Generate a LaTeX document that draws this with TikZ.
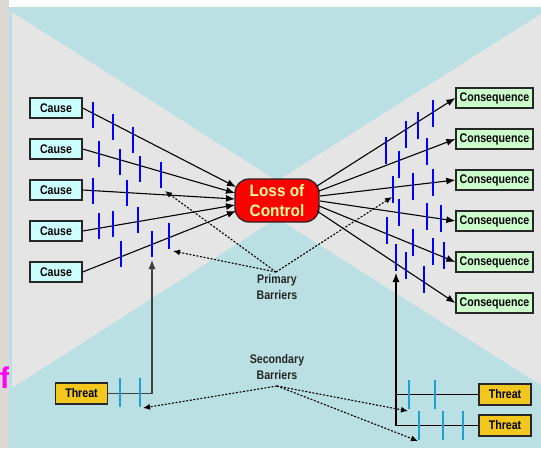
\documentclass[tikz,border=0pt]{standalone}
\usepackage{fontspec}
\newfontfamily\boxfont[FakeStretch=0.85]{Liberation Sans}
\newfontfamily\locfont[FakeStretch=0.93]{Liberation Sans}
\newfontfamily\bgfont{Liberation Sans}
\usetikzlibrary{arrows.meta}
\usepackage{xcolor}
\newcommand{\TxCause}{\fontsize{12.5}{14}\boxfont\bfseries Cause}
\newcommand{\TxConseq}{\fontsize{12.5}{14}\boxfont\bfseries Consequence}
\newcommand{\TxThreat}{\fontsize{12.5}{14}\boxfont\bfseries Threat}
\definecolor{myteal}{rgb}{0.729,0.878,0.890}
\definecolor{mygray}{rgb}{0.898,0.898,0.898}
\definecolor{myspeckle}{rgb}{0.86,0.85,0.82}
\definecolor{mycyan}{rgb}{0.8,1,1}
\definecolor{mylime}{rgb}{0.8,1,0.8}
\definecolor{mygold}{rgb}{0.949,0.784,0.122}
\definecolor{myyellow}{rgb}{1,1,0.6}
\definecolor{mylightblue}{rgb}{0.118,0.627,0.843}
\definecolor{mymagenta}{rgb}{1,0,1}

\begin{document}
\begin{tikzpicture}[x=1pt,y=-1pt,>={Latex[length=9pt,width=7pt]},
  box/.style={draw=black!85,line width=1.3pt,minimum height=20pt,inner sep=0pt},
  cause/.style={box,fill=mycyan,minimum width=52pt},
  conseq/.style={box,fill=mylime,minimum width=77pt},
  threat/.style={box,fill=mygold,minimum width=52pt,minimum height=21pt},
  loc/.style={draw=black!85,line width=1.3pt,fill=red,text=myyellow,rounded corners=14pt,
    minimum width=84pt,minimum height=43pt,inner sep=0pt,align=center,
    font=\fontsize{16.5}{20}\locfont\bfseries},
  barlabel/.style={text=black!85,align=center,inner sep=0pt,
    font=\fontsize{12.5}{15.5}\boxfont\bfseries},
  flow/.style={->,line width=1.1pt},
  barrier/.style={blue,line width=2.2pt},
  barrier2/.style={mylightblue,line width=2.2pt},
  pointer/.style={line width=1.1pt,dash pattern=on 2pt off 1.6pt,-{Latex[length=7pt,width=6pt]}}]
  \useasboundingbox (0,0) rectangle (541,448);
  % background
  \fill[white] (0,0) rectangle (541,448);
  \fill[myspeckle] (0,0) rectangle (9.3,448);
  \node[mymagenta,anchor=base east,inner sep=0pt] (frag) at (10,388) {\fontsize{30}{30}\bgfont\bfseries f};
  \fill[myteal] (9.3,7.3) rectangle (541,448);
  \fill[mygray] (12,12) -- (277,181) -- (541,14) -- (541,385) -- (277,218) -- (12,388) -- cycle;

  % boxes
  \node[cause] (c1) at (56,108) {\TxCause};
  \node[cause] (c2) at (56,149) {\TxCause};
  \node[cause] (c3) at (56,190) {\TxCause};
  \node[cause] (c4) at (56,231) {\TxCause};
  \node[cause] (c5) at (56,272) {\TxCause};
  \node[conseq] (q1) at (494.5,98)  {\TxConseq};
  \node[conseq] (q2) at (494.5,139) {\TxConseq};
  \node[conseq] (q3) at (494.5,180) {\TxConseq};
  \node[conseq] (q4) at (494.5,221) {\TxConseq};
  \node[conseq] (q5) at (494.5,262) {\TxConseq};
  \node[conseq] (q6) at (494.5,303) {\TxConseq};
  \node[threat] (t1) at (81.5,393.5) {\TxThreat};
  \node[threat] (t2) at (505,394.5) {\TxThreat};
  \node[threat] (t3) at (505,425.5) {\TxThreat};
  \node[loc] (loc) at (277,200.5) {Loss of\\Control};
  \node[barlabel] (pb) at (277,287) {Primary\\Barriers};
  \node[barlabel] (sb) at (277,367) {Secondary\\Barriers};

  % ends on the loss of control box
  \coordinate (i1) at (236,187);
  \coordinate (i2) at (235,193);
  \coordinate (i3) at (235,199);
  \coordinate (i4) at (235,205);
  \coordinate (i5) at (236,211);
  \coordinate (o1) at (317,186);
  \coordinate (o2) at (319,191);
  \coordinate (o3) at (320,196);
  \coordinate (o4) at (320,201);
  \coordinate (o5) at (319,206);
  \coordinate (o6) at (317,211);
  \draw[flow] (c1.east) -- (i1);
  \draw[flow] (c2.east) -- (i2);
  \draw[flow] (c3.east) -- (i3);
  \draw[flow] (c4.east) -- (i4);
  \draw[flow] (c5.east) -- (i5);
  \draw[flow] (o1) -- (q1.west);
  \draw[flow] (o2) -- (q2.west);
  \draw[flow] (o3) -- (q3.west);
  \draw[flow] (o4) -- (q4.west);
  \draw[flow] (o5) -- (q5.west);
  \draw[flow] (o6) -- (q6.west);

  % threats
  \coordinate (tl) at (152,260);
  \coordinate (tr) at (396,273);
  \draw[flow,black!75] (t1.east) -| (tl);
  \draw[flow] (t3.west) -| (tr);
  \draw[line width=1.1pt] (t2.west) -- (t2.west -| tr);

  % barriers
  \foreach \x/\y in {93/115,113/127,133/139.5,99/154,120/162,140/168.5,161/175,
    93/190.5,127/192.5,99/225.5,113/223.5,138/220,121/254,152/244,169/236}
    \draw[barrier] (\x,\y-13) -- (\x,\y+13);
  \foreach \x/\y in {386/150,399/164,406/134,418/125,427/151.5,433/113,393/189.5,
    413/186,433/182,399/212,427/216.5,441/218.5,387/230.5,413/242.5,433/251,
    444/255,396/257.5,406/265.5,424/279.5}
    \draw[barrier] (\x,\y-13.5) -- (\x,\y+13.5);
  \foreach \x/\y in {120/392.5,140/392.5,409/394.5,435/394.5,419/425.5,443/425.5,463/425.5}
    \draw[barrier2] (\x,\y-14.5) -- (\x,\y+14.5);

  % pointers to the barriers
  \coordinate (pa) at (276,272);
  \coordinate (sa) at (277,386);
  \coordinate (b1) at (165,191);
  \coordinate (b2) at (173,251);
  \coordinate (b3) at (392,197);
  \coordinate (s1) at (143,408);
  \coordinate (s2) at (408,411);
  \coordinate (s3) at (418,441);
  \draw[pointer] (pa) -- (b1);
  \draw[pointer] (pa) -- (b2);
  \draw[pointer] (pa) -- (b3);
  \draw[pointer] (sa) -- (s1);
  \draw[pointer] (sa) -- (s2);
  \draw[pointer] (sa) -- (s3);
\end{tikzpicture}
\end{document}
